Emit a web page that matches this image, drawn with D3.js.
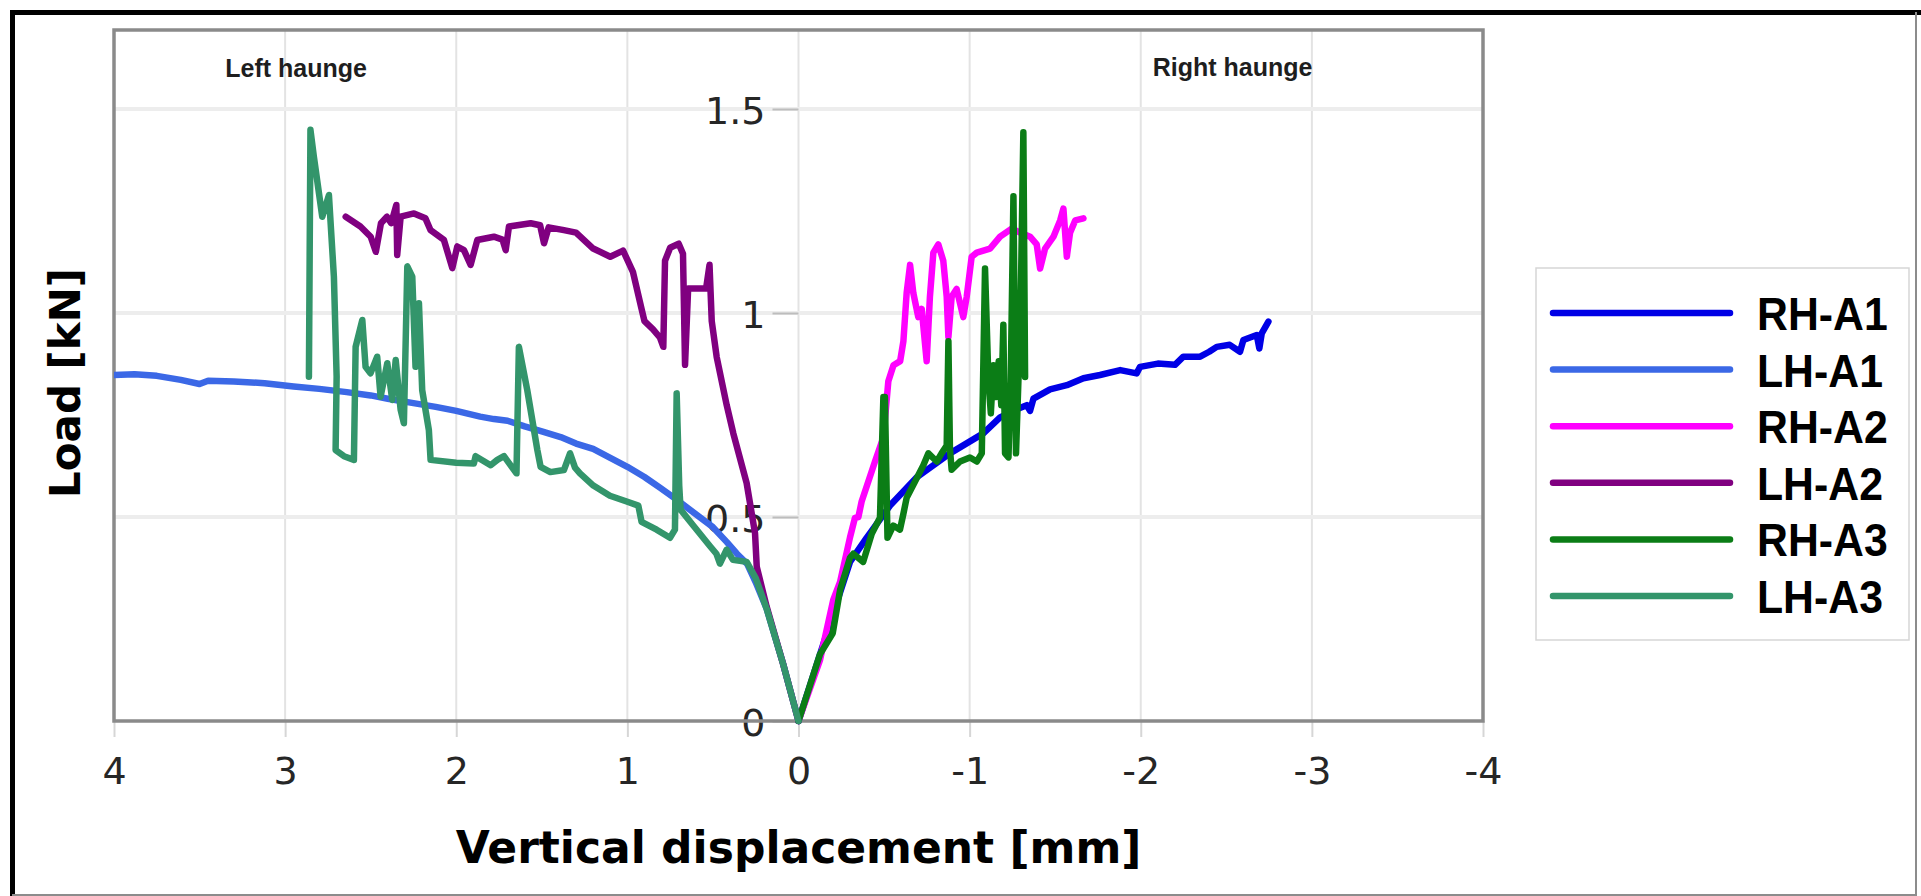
<!DOCTYPE html>
<html>
<head>
<meta charset="utf-8">
<script src="https://cdn.jsdelivr.net/npm/d3@7/dist/d3.min.js"></script>
<style>
  body { margin: 0; background: #fff; }
  svg { display: block; }
</style>
</head>
<body>
<svg id="chart" width="1921" height="896"></svg>
<script>
// data: [vertical displacement (mm), load (kN)]
var xTicks = [4, 3, 2, 1, 0, -1, -2, -3, -4];
var yTicks = [0, 0.5, 1, 1.5];
var seriesNames = ['RH-A1', 'LH-A1', 'RH-A2', 'LH-A2', 'RH-A3', 'LH-A3'];
var seriesColors = ['#0000e6', '#3b68e6', '#ff00ff', '#800080', '#0b7d16', '#33956b'];

var rhA1 = [[0,0],[-0.10,0.13],[-0.20,0.26],[-0.301,0.39],[-0.398,0.449],[-0.535,0.528],[-0.690,0.597],
  [-0.885,0.656],[-1.080,0.705],[-1.178,0.744],[-1.275,0.764],[-1.334,0.774],[-1.353,0.76],[-1.373,0.79],
  [-1.470,0.813],[-1.568,0.823],[-1.665,0.840],[-1.762,0.848],[-1.88,0.86],[-1.976,0.852],[-1.996,0.868],
  [-2.10,0.876],[-2.20,0.873],[-2.249,0.893],[-2.347,0.893],[-2.40,0.905],[-2.444,0.917],[-2.52,0.922],
  [-2.58,0.905],[-2.600,0.934],[-2.678,0.946],[-2.693,0.913],[-2.707,0.950],[-2.746,0.979]];

var lhA1 = [[0,0],[0.09,0.14],[0.186,0.275],[0.25,0.34],[0.30,0.385],[0.36,0.41],[0.42,0.439],[0.50,0.475],
  [0.62,0.513],[0.72,0.545],[0.81,0.572],[0.90,0.598],[1.00,0.623],[1.10,0.645],[1.20,0.667],[1.30,0.680],
  [1.39,0.696],[1.50,0.71],[1.60,0.722],[1.70,0.736],[1.78,0.740],[1.86,0.746],[2.00,0.76],[2.12,0.77],
  [2.25,0.779],[2.40,0.79],[2.50,0.798],[2.64,0.806],[2.80,0.814],[2.95,0.82],[3.12,0.828],[3.30,0.832],
  [3.45,0.834],[3.50,0.826],[3.61,0.836],[3.75,0.846],[3.88,0.85],[4.0,0.848]];

var rhA2 = [[0,0],[-0.126,0.15],[-0.203,0.297],[-0.243,0.341],[-0.301,0.45],[-0.330,0.498],[-0.35,0.50],
  [-0.369,0.538],[-0.447,0.636],[-0.496,0.695],[-0.525,0.833],[-0.555,0.872],[-0.594,0.882],[-0.613,0.931],
  [-0.632,1.049],[-0.652,1.118],[-0.671,1.049],[-0.700,0.99],[-0.720,1.01],[-0.749,0.882],[-0.768,1.04],
  [-0.788,1.148],[-0.817,1.168],[-0.846,1.128],[-0.866,1.04],[-0.876,0.941],[-0.895,1.04],[-0.924,1.059],
  [-0.963,0.990],[-0.983,1.040],[-1.012,1.138],[-1.042,1.148],[-1.119,1.158],[-1.178,1.187],[-1.246,1.207],
  [-1.295,1.197],[-1.353,1.187],[-1.392,1.168],[-1.412,1.109],[-1.441,1.158],[-1.490,1.187],[-1.529,1.227],
  [-1.548,1.256],[-1.568,1.138],[-1.587,1.197],[-1.617,1.227],[-1.665,1.232]];

var lhA2 = [[0,0],[0.09,0.14],[0.186,0.28],[0.244,0.378],[0.254,0.46],[0.303,0.583],[0.381,0.705],
  [0.42,0.775],[0.478,0.892],[0.507,0.98],[0.52,1.118],[0.54,1.06],[0.645,1.06],[0.663,0.873],[0.675,1.145],
  [0.70,1.17],[0.75,1.16],[0.78,1.128],[0.79,0.917],[0.81,0.94],[0.85,0.96],[0.90,0.98],[0.917,1.01],
  [0.967,1.10],[1.0,1.13],[1.025,1.153],[1.10,1.138],[1.20,1.158],[1.30,1.197],[1.371,1.203],[1.46,1.21],
  [1.487,1.171],[1.51,1.215],[1.565,1.22],[1.692,1.212],[1.711,1.154],[1.73,1.18],[1.78,1.187],[1.877,1.179],
  [1.916,1.118],[1.955,1.154],[1.994,1.163],[2.023,1.11],[2.072,1.179],[2.15,1.203],[2.18,1.232],
  [2.247,1.244],[2.325,1.236],[2.345,1.142],[2.35,1.265],[2.38,1.22],[2.405,1.236],[2.44,1.22],[2.47,1.15],
  [2.50,1.187],[2.56,1.212],[2.646,1.236]];

var rhA3 = [[0,0],[-0.126,0.164],[-0.2,0.215],[-0.243,0.321],[-0.301,0.400],[-0.32,0.41],[-0.378,0.390],
  [-0.428,0.459],[-0.476,0.498],[-0.496,0.794],[-0.505,0.794],[-0.52,0.449],[-0.554,0.479],[-0.593,0.469],
  [-0.613,0.508],[-0.632,0.547],[-0.681,0.587],[-0.729,0.626],[-0.759,0.656],[-0.808,0.636],[-0.836,0.656],
  [-0.866,0.675],[-0.876,0.931],[-0.885,0.666],[-0.895,0.616],[-0.944,0.636],[-1.002,0.646],[-1.042,0.636],
  [-1.071,0.656],[-1.090,1.109],[-1.110,0.833],[-1.124,0.754],[-1.139,0.872],[-1.154,0.794],[-1.170,0.882],
  [-1.185,0.774],[-1.197,0.971],[-1.207,0.656],[-1.227,0.646],[-1.24,0.833],[-1.256,1.286],[-1.271,0.656],
  [-1.285,0.833],[-1.295,0.931],[-1.314,1.443],[-1.324,0.843]];

var lhA3 = [[0,0],[0.09,0.14],[0.186,0.275],[0.25,0.35],[0.303,0.39],[0.383,0.395],[0.42,0.42],
  [0.459,0.386],[0.48,0.41],[0.518,0.429],[0.615,0.479],[0.689,0.518],[0.697,0.577],[0.712,0.803],
  [0.722,0.469],[0.751,0.449],[0.829,0.469],[0.917,0.488],[0.936,0.528],[1.004,0.538],[1.102,0.552],
  [1.199,0.577],[1.277,0.607],[1.306,0.621],[1.335,0.656],[1.371,0.615],[1.45,0.61],[1.507,0.623],
  [1.526,0.664],[1.585,0.811],[1.634,0.917],[1.648,0.607],[1.721,0.649],[1.760,0.640],[1.799,0.627],
  [1.887,0.649],[1.897,0.631],[2.0,0.633],[2.150,0.640],[2.160,0.713],[2.199,0.811],[2.218,1.024],
  [2.238,0.868],[2.257,1.089],[2.286,1.114],[2.306,0.730],[2.325,0.763],[2.354,0.885],[2.374,0.787],
  [2.403,0.877],[2.442,0.795],[2.462,0.893],[2.501,0.852],[2.530,0.868],[2.549,0.983],[2.588,0.917],
  [2.598,0.640],[2.656,0.649],[2.705,0.664],[2.699,0.844],[2.715,1.089],[2.744,1.289],[2.783,1.236],
  [2.832,1.383],[2.852,1.449],[2.861,0.844]];

var seriesData = [rhA1, lhA1, rhA2, lhA2, rhA3, lhA3];

var svg = d3.select('#chart');

var x = d3.scaleLinear().domain([4, -4]).range([114, 1483]);
var y = d3.scaleLinear().domain([0, 1.5]).range([721, 109]);
var plotTop = 30;

// outer frame of the figure (dark top/left, light bottom/right)
svg.append('path').attr('d', 'M12.5,896 V12.5 H1921')
  .attr('fill', 'none').attr('stroke', '#000').attr('stroke-width', 5);
svg.append('path').attr('d', 'M1916,12 V895 H12')
  .attr('fill', 'none').attr('stroke', '#8c8c8c').attr('stroke-width', 2);

// grid
var grid = svg.append('g');
grid.selectAll('line.vg').data(xTicks).enter().append('line')
  .attr('x1', function (d) { return x(d); }).attr('x2', function (d) { return x(d); })
  .attr('y1', plotTop).attr('y2', y(0))
  .attr('stroke', '#e3e3e3').attr('stroke-width', 2);
grid.selectAll('line.hg').data(yTicks.filter(function (d) { return d > 0; })).enter().append('line')
  .attr('x1', x(4)).attr('x2', x(-4))
  .attr('y1', function (d) { return y(d); }).attr('y2', function (d) { return y(d); })
  .attr('stroke', '#ededed').attr('stroke-width', 4);

// x axis
var xAxis = svg.append('g').attr('transform', 'translate(0,' + y(0) + ')')
  .call(d3.axisBottom(x).tickValues(xTicks).tickSize(16).tickPadding(28)
    .tickFormat(function (d) { return String(d); }));
xAxis.select('.domain').remove();
xAxis.selectAll('line').attr('stroke', '#d6d6d6').attr('stroke-width', 2);
xAxis.selectAll('text').attr('font-family', 'DejaVu Sans').attr('font-size', 38)
  .attr('fill', '#262626').attr('dy', '0.71em').attr('y', 36);

// y axis sitting on the zero line
var yAxis = svg.append('g').attr('transform', 'translate(' + x(0) + ',0)')
  .call(d3.axisLeft(y).tickValues(yTicks).tickSize(26).tickPadding(7)
    .tickFormat(function (d) { return String(d); }));
yAxis.select('.domain').remove();
yAxis.selectAll('line').attr('stroke', '#bdbdbd').attr('stroke-width', 2);
yAxis.selectAll('text').attr('font-family', 'DejaVu Sans').attr('font-size', 38)
  .attr('fill', '#262626').attr('dy', '0.38em');

// plot frame
svg.append('rect').attr('x', x(4)).attr('y', plotTop)
  .attr('width', x(-4) - x(4)).attr('height', y(0) - plotTop)
  .attr('fill', 'none').attr('stroke', '#8a8a8a').attr('stroke-width', 3.5);

// curves
svg.append('clipPath').attr('id', 'plotclip').append('rect')
  .attr('x', x(4)).attr('y', plotTop).attr('width', x(-4) - x(4)).attr('height', y(0) - plotTop + 4);

var line = d3.line().x(function (d) { return x(d[0]); }).y(function (d) { return y(d[1]); });
svg.append('g').attr('clip-path', 'url(#plotclip)')
  .selectAll('path').data(seriesData).enter().append('path')
  .attr('d', line)
  .attr('fill', 'none')
  .attr('stroke', function (d, i) { return seriesColors[i]; })
  .attr('stroke-width', 6.5)
  .attr('stroke-linejoin', 'round')
  .attr('stroke-linecap', 'round');

// side notes
svg.append('text').attr('x', x(3.35)).attr('y', 77).text('Left haunge')
  .attr('font-family', 'Liberation Sans').attr('font-weight', 'bold').attr('font-size', 25).attr('fill', '#1e1e1e');
svg.append('text').attr('x', x(-2.07)).attr('y', 76).text('Right haunge')
  .attr('font-family', 'Liberation Sans').attr('font-weight', 'bold').attr('font-size', 25).attr('fill', '#1e1e1e');

// axis titles
svg.append('text').attr('x', x(0)).attr('y', 863).attr('text-anchor', 'middle')
  .text('Vertical displacement [mm]')
  .attr('font-family', 'DejaVu Sans').attr('font-weight', 'bold').attr('font-size', 44).attr('fill', '#000');
svg.append('text').attr('transform', 'translate(80,383) rotate(-90)').attr('text-anchor', 'middle')
  .text('Load [kN]')
  .attr('font-family', 'DejaVu Sans').attr('font-weight', 'bold').attr('font-size', 42).attr('fill', '#000');

// legend
var legend = svg.append('g');
legend.append('rect').attr('x', 1536).attr('y', 268).attr('width', 373).attr('height', 372)
  .attr('fill', '#fff').attr('stroke', '#d6d6d6').attr('stroke-width', 1.5);
var items = legend.selectAll('g.item').data(seriesNames).enter().append('g')
  .attr('transform', function (d, i) { return 'translate(0,' + (313 + i * 56.6) + ')'; });
items.append('line').attr('x1', 1553).attr('x2', 1730).attr('y1', 0).attr('y2', 0)
  .attr('stroke', function (d, i) { return seriesColors[i]; })
  .attr('stroke-width', 6.5).attr('stroke-linecap', 'round');
items.append('g').attr('transform', 'translate(1757,17) scale(0.93,1)')
  .append('text').text(function (d) { return d; })
  .attr('font-family', 'Liberation Sans').attr('font-weight', 'bold').attr('font-size', 46).attr('fill', '#000');
</script>
</body>
</html>
